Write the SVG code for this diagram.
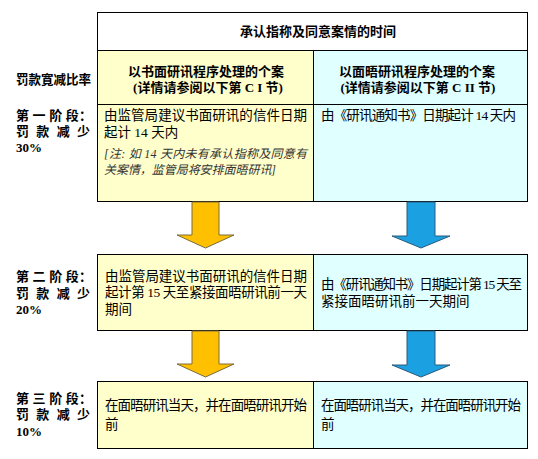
<svg xmlns="http://www.w3.org/2000/svg" width="538" height="459" viewBox="0 0 538 459">
<style>
.y{fill:#FFFFCC;stroke:#000;stroke-width:1}
.c{fill:#E0FFFF;stroke:#000;stroke-width:1}
.w{fill:#FFFFFF;stroke:#000;stroke-width:1}
.t{font-family:"Liberation Serif","Noto Sans CJK SC",serif;font-size:13.5px;fill:#000}
.n{font-family:"Liberation Serif","Noto Sans CJK SC",serif;font-size:12px;font-style:italic;fill:#333}
.b{font-family:"Liberation Serif","Noto Sans CJK SC",serif;font-size:13px;font-weight:bold;fill:#000}
.h{font-family:"Liberation Serif","Noto Sans CJK SC",serif;font-size:13px;font-weight:bold;fill:#000}
.ay{fill:#FFC000;stroke:#7a6a3a;stroke-width:1}
.ab{fill:#1BA1E2;stroke:#2a5a7a;stroke-width:1}
</style>
<rect width="538" height="459" fill="#FFFFFF"/>
<g id="header">
<rect class="w" x="97.5" y="12.5" width="430" height="38"/>
<text class="h" x="318" y="36" text-anchor="middle">承认指称及同意案情的时间</text>
</g>
<g id="col-written">
<rect class="y" x="97.5" y="50.5" width="216" height="54"/>
<text class="h" x="206" y="76" text-anchor="middle">以书面研讯程序处理的个案</text>
<text class="h" x="208" y="92" text-anchor="middle">(详情请参阅以下第 C I 节)</text>
</g>
<g id="col-oral">
<rect class="c" x="313.5" y="50.5" width="214" height="54"/>
<text class="h" x="417" y="76" text-anchor="middle">以面晤研讯程序处理的个案</text>
<text class="h" x="418" y="92" text-anchor="middle">(详情请参阅以下第 C II 节)</text>
</g>
<g id="label-rate">
<text class="b" x="16" y="84" textLength="75" lengthAdjust="spacingAndGlyphs">罚款寛减比率</text>
</g>
<g id="label-stage1">
<text class="b" x="16" y="120" textLength="76" lengthAdjust="spacing">第 一 阶 段：</text>
<text class="b" x="16" y="136" textLength="74" lengthAdjust="spacing">罚 款 减 少</text>
<text class="b" x="16" y="152">30%</text>
</g>
<g id="stage1-written">
<rect class="y" x="97.5" y="104.5" width="216" height="97"/>
<text class="t" x="104" y="120" textLength="203" lengthAdjust="spacing">由监管局建议书面研讯的信件日期</text>
<text class="t" x="104" y="137">起计 14 天内</text>
<text class="n" x="104" y="158" textLength="203" lengthAdjust="spacing">[注: 如 14 天内未有承认指称及同意有</text>
<text class="n" x="104" y="174" textLength="172" lengthAdjust="spacing">关案情，监管局将安排面晤研讯]</text>
</g>
<g id="stage1-oral">
<rect class="c" x="313.5" y="104.5" width="214" height="97"/>
<text class="t" x="321" y="120" textLength="195" lengthAdjust="spacing">由《研讯通知书》日期起计 14 天内</text>
</g>
<g id="label-stage2">
<text class="b" x="16" y="281" textLength="76" lengthAdjust="spacing">第 二 阶 段：</text>
<text class="b" x="16" y="298" textLength="74" lengthAdjust="spacing">罚 款 减 少</text>
<text class="b" x="16" y="314">20%</text>
</g>
<g id="stage2-written">
<rect class="y" x="97.5" y="254.5" width="216" height="76"/>
<text class="t" x="105" y="281" textLength="202" lengthAdjust="spacing">由监管局建议书面研讯的信件日期</text>
<text class="t" x="105" y="297" textLength="202" lengthAdjust="spacing">起计第 15 天至紧接面晤研讯前一天</text>
<text class="t" x="105" y="314">期间</text>
</g>
<g id="stage2-oral">
<rect class="c" x="313.5" y="254.5" width="214" height="76"/>
<text class="t" x="321" y="289" textLength="201" lengthAdjust="spacing">由《研讯通知书》日期起计第 15 天至</text>
<text class="t" x="321" y="306">紧接面晤研讯前一天期间</text>
</g>
<g id="label-stage3">
<text class="b" x="16" y="403" textLength="76" lengthAdjust="spacing">第 三 阶 段：</text>
<text class="b" x="16" y="419" textLength="74" lengthAdjust="spacing">罚 款 减 少</text>
<text class="b" x="16" y="436">10%</text>
</g>
<g id="stage3-written">
<rect class="y" x="97.5" y="381.5" width="216" height="67"/>
<text class="t" x="105" y="410" textLength="202" lengthAdjust="spacing">在面晤研讯当天，并在面晤研讯开始</text>
<text class="t" x="105" y="429">前</text>
</g>
<g id="stage3-oral">
<rect class="c" x="313.5" y="381.5" width="214" height="67"/>
<text class="t" x="321" y="410" textLength="200" lengthAdjust="spacing">在面晤研讯当天，并在面晤研讯开始</text>
<text class="t" x="321" y="429">前</text>
</g>
<g id="connectors">
<polygon class="ay" points="192,202 219,202 219,235 234,235 205.5,248 177,235 192,235"/>
<polygon class="ab" points="407,202 435,202 435,236 450,236 421,248 392,236 407,236"/>
<polygon class="ay" points="192,331 219,331 219,364 234,364 205.5,377 177,364 192,364"/>
<polygon class="ab" points="407,331 435,331 435,365 450,365 421,377 392,365 407,365"/>
</g>
</svg>
